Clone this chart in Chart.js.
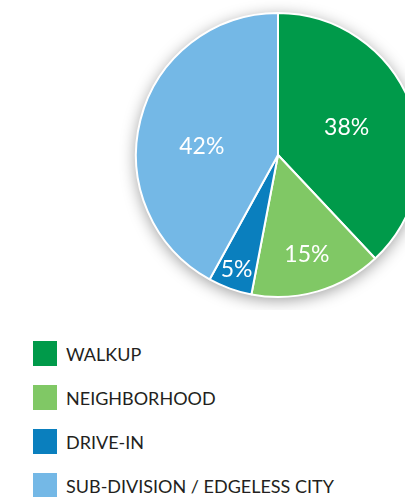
<!DOCTYPE html>
<html>
<head>
<meta charset="utf-8">
<script src="https://cdn.jsdelivr.net/npm/chart.js@4"></script>
<style>
  html, body { margin: 0; padding: 0; background: #fff; }
  #wrap { position: relative; width: 405px; height: 497px; overflow: hidden; }
  #pie { position: absolute; left: 0; top: 0; }
  #legend { position: absolute; left: 33px; top: 341px; font-family: Lato, "Open Sans", sans-serif; font-size: 18px; color: #231f20; }
  .chart-legend-item { display: flex; align-items: center; height: 25px; margin-bottom: 19px; white-space: nowrap; }
  .chart-legend-indicator { display: inline-block; width: 24px; height: 25px; margin-right: 9px; }
</style>
</head>
<body>
<div id="wrap">
  <canvas id="pie" width="440" height="310"></canvas>
  <div id="legend"></div>
</div>
<script>
// datos del grafico
let categorias = ["WALKUP", "NEIGHBORHOOD", "DRIVE-IN", "SUB-DIVISION / EDGELESS CITY"];
let valores = [38, 15, 5, 42];
let colores = ["#009a4a", "#80c865", "#0a7fbe", "#74b8e6"];

// sombra detras del pie
const pieShadow = {
  id: "pieShadow",
  beforeDatasetsDraw(chart) {
    let arc = chart.getDatasetMeta(0).data[0];
    if (!arc) return;
    let ctx = chart.ctx;
    ctx.save();
    ctx.beginPath();
    ctx.arc(arc.x, arc.y, arc.outerRadius, 0, Math.PI * 2);
    ctx.fillStyle = "#fff";
    ctx.shadowColor = "rgba(0,0,0,0.4)";
    ctx.shadowBlur = 16;
    ctx.shadowOffsetY = 3;
    ctx.fill();
    ctx.restore();
  },
};

// porcentajes dentro de cada rebanada
const pieLabels = {
  id: "pieLabels",
  afterDatasetsDraw(chart, args, opts) {
    let ctx = chart.ctx;
    let meta = chart.getDatasetMeta(0);
    ctx.save();
    ctx.fillStyle = "#fff";
    ctx.font = "23px Lato, 'Open Sans', sans-serif";
    ctx.textAlign = "center";
    ctx.textBaseline = "middle";
    meta.data.forEach(function (arc, i) {
      let mid = (arc.startAngle + arc.endAngle) / 2 + (opts.shift[i] || 0) * Math.PI / 180;
      let r = arc.outerRadius * opts.dist[i];
      ctx.fillText(chart.data.datasets[0].data[i] + "%", arc.x + Math.cos(mid) * r, arc.y + Math.sin(mid) * r);
    });
    ctx.restore();
  },
};

let chart = new Chart(document.getElementById("pie"), {
  type: "pie",
  data: {
    labels: categorias,
    datasets: [
      {
        data: valores,
        backgroundColor: colores,
        borderColor: "#fff",
        borderWidth: 2,
      },
    ],
  },
  options: {
    responsive: false,
    animation: false,
    layout: { padding: { left: 135, top: 12, right: 19, bottom: 12 } },
    plugins: {
      legend: { display: false },
      tooltip: { enabled: false },
      pieLabels: { dist: [0.52, 0.73, 0.86, 0.54], shift: [0, 0, 0, -8] },
    },
  },
  plugins: [pieShadow, pieLabels],
});

// leyenda en html
let content = "";
categorias.forEach(function (label, index) {
  content += '<div class="chart-legend-item">';
  content += '<i class="chart-legend-indicator" style="background-color: ' + colores[index] + '"></i>';
  content += label;
  content += "</div>";
});
document.getElementById("legend").innerHTML = content;
</script>
</body>
</html>
